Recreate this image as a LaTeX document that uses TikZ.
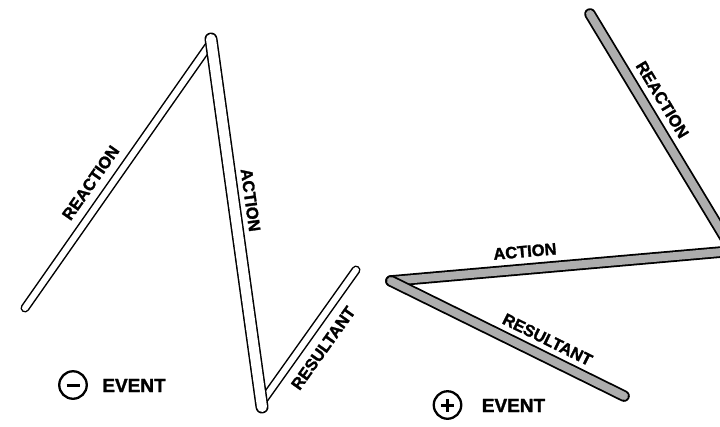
\documentclass[tikz,border=0pt]{standalone}
\usepackage{fontspec}
\setmainfont{Liberation Sans}[BoldFeatures={FakeBold=1.6}]

\begin{document}
\begin{tikzpicture}[x=1pt, y=-1pt,
        rod/.style={draw=black, line width=1.5pt, double=white, double distance=#1, line cap=round},
        rod/.default=6pt,
        grayrod/.style={draw=black, line width=1.8pt, double=black!32, double distance=8pt, line cap=round},
        lbl/.style={sloped, inner sep=0pt, font=\fontsize{16.5}{16.5}\selectfont\bfseries},
        sign/.style={circle, draw=black, line width=2.3pt, minimum size=27.5pt, inner sep=0pt},
        evt/.style={inner sep=0pt, font=\fontsize{19}{19}\selectfont\bfseries}
      ]

\useasboundingbox (0,0) rectangle (720,426);
      \clip (0,0) rectangle (720,426);

\coordinate (reacL) at (25,308);
      \coordinate (topL) at (210,44);
      \coordinate (actL) at (211,39);
      \coordinate (botL) at (262,407);
      \coordinate (resL) at (262,402);
      \coordinate (endL) at (356,270);

\draw[rod] (reacL) -- node[lbl, above=11.5pt, pos=0.435] {REACTION} (topL);
      \draw[rod] (resL) -- node[lbl, below=12pt, pos=0.49] {RESULTANT} (endL);
      \draw[rod=10pt] (actL) -- node[lbl, above=10.5pt, pos=0.444] {ACTION} (botL);

\coordinate (reacR) at (590,14);
      \coordinate (vertR) at (733,251);
      \coordinate (actR) at (391,281);
      \coordinate (endR) at (624,396);

\draw[grayrod] (reacR) -- node[lbl, above=11pt, pos=0.40] {REACTION} (vertR);
      \draw[grayrod] (actR) -- node[lbl, above=11pt, pos=0.396] {ACTION} (vertR);
      \draw[grayrod] (actR) -- node[lbl, above=10pt, pos=0.64] {RESULTANT} (endR);

\node[sign] (minus) at (73,385) {};
      \node[evt] (evtL) at (134,385.5) {EVENT};
      \draw[line width=3pt] ([xshift=-6.5pt]minus.center) -- ([xshift=6.5pt]minus.center);

\node[sign] (plus) at (447.5,405) {};
      \node[evt] (evtR) at (513.5,405.5) {EVENT};
      \draw[line width=3pt] ([xshift=-6.5pt]plus.center) -- ([xshift=6.5pt]plus.center);
      \draw[line width=3pt] ([yshift=-6.5pt]plus.center) -- ([yshift=6.5pt]plus.center);

      \end{tikzpicture}
\end{document}
